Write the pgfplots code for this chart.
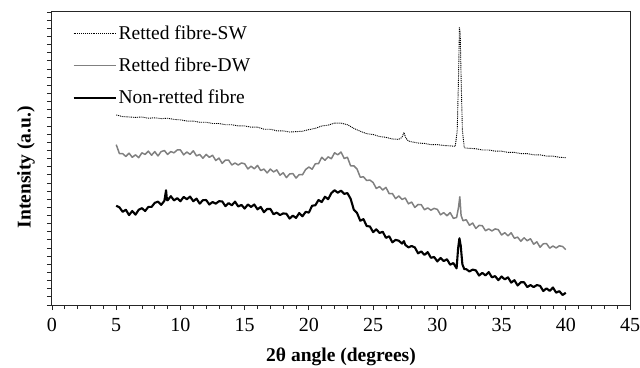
\documentclass[border=0pt]{standalone}
\usepackage{fontspec}
\setmainfont{Liberation Serif}
\usepackage{pgfplots}
\pgfplotsset{compat=1.18}
\newcommand{\fs}{\fontsize{19.5}{23}\selectfont}
\newcommand{\fst}{\fontsize{20}{24}\selectfont}
\begin{document}
\begin{tikzpicture}
\begin{axis}[
  at={(0,0)}, anchor=south west,
  scale only axis, width=578pt, height=293pt,
  xmin=0, xmax=45, ymin=0, ymax=36,
  xtick={0,5,...,45}, minor x tick num=4,
  ytick={0,1,...,36}, yticklabels={},
  tick align=outside, xtick pos=bottom, ytick pos=left,
  major tick length=5pt, minor tick length=4pt,
  axis line style={line width=1pt, color=black!85},
  every tick/.style={black!85, line width=0.8pt},
  font=\fs,
  tick label style={font=\fst},
  x tick label style={yshift=-5pt},
  /pgf/number format/assume math mode=true,
  xlabel={\textbf{2θ angle (degrees)}},
  ylabel={\textbf{Intensity (a.u.)}},
  xlabel style={font=\fs, at={(axis description cs:0.5,0)}, anchor=center, yshift=-52pt},
  ylabel style={font=\fs, at={(axis description cs:-0.045,0.47)}, anchor=center},
  legend cell align=left,
  legend style={draw=none, fill=none, at={(axis description cs:0.03,0.968)}, anchor=north west, row sep=13pt, font=\fs, nodes={font=\fs}},
  legend image code/.code={\draw[#1] (0pt,0pt) -- (42pt,0pt);},
]
% Retted fibre-SW
\addplot[black, line width=0.9pt, dash pattern=on 1pt off 0.9pt] coordinates {
(5,23.35)(5.5,23.15)(6,23.1)(6.5,23.05)(7,23.1)(7.5,22.95)(8,23.0)(8.5,22.9)(9,22.95)(9.5,22.8)
(10,22.75)(10.5,22.6)(11,22.6)(11.5,22.45)(12,22.45)(12.5,22.3)(13,22.3)(13.5,22.15)(14,22.15)(14.5,22.0)
(15,22.0)(15.5,21.85)(16,21.85)(16.5,21.6)(17,21.6)(17.5,21.4)(18,21.4)(18.5,21.25)(19,21.3)(19.5,21.35)
(20,21.55)(20.5,21.7)(21,22.0)(21.5,22.1)(22,22.35)(22.5,22.35)(23,22.15)(23.5,21.7)(24,21.35)(24.5,21.05)
(25,20.95)(25.5,20.7)(26,20.6)(26.5,20.4)(27,20.35)(27.25,20.6)(27.4,21.2)(27.55,20.5)(27.75,20.15)(28,20.05)
(28.5,19.9)(29,19.85)(29.5,19.7)(30,19.7)(30.5,19.6)(31,19.55)(31.4,19.5)(31.55,21.5)(31.65,28)(31.72,34.1)
(31.78,33.5)(31.85,28)(31.95,21.5)(32.1,19.3)(32.5,19.25)(33,19.2)(33.5,19.05)(34,19.05)(34.5,18.9)(35,18.9)
(35.5,18.75)(36,18.75)(36.5,18.6)(37,18.6)(37.5,18.45)(38,18.45)(38.5,18.3)(39,18.3)(39.5,18.15)(40,18.1)
};
\addlegendentry{Retted fibre-SW}
% Retted fibre-DW
\addplot[black!50, line width=1.5pt, line join=round] coordinates {
(5,19.7)(5.25,18.6)(5.5,18.6)(5.75,18.25)(6,18.65)(6.25,18.15)(6.5,18.45)(6.75,18.1)(7,18.7)(7.25,18.5)
(7.5,18.9)(7.75,18.4)(8,18.85)(8.25,18.32)(8.5,18.85)(8.75,18.98)(9,18.5)(9.25,18.85)(9.5,18.7)(9.75,19.05)
(10,19.05)(10.25,18.45)(10.5,18.8)(10.75,18.5)(11,18.95)(11.25,18.32)(11.5,18.5)(11.75,18.03)(12,18.5)(12.25,18.15)
(12.5,18.4)(12.75,17.75)(13,18.05)(13.25,17.4)(13.5,17.8)(13.75,17.8)(14,17.2)(14.25,17.45)(14.5,17.2)(14.75,17.45)
(15,17.35)(15.25,16.72)(15.5,17.05)(15.75,16.73)(16,17.15)(16.25,16.52)(16.5,16.7)(16.75,16.23)(17,16.7)(17.25,16.35)
(17.5,16.6)(17.75,15.95)(18,16.25)(18.25,15.65)(18.5,16.1)(18.75,16.15)(19,15.6)(19.25,16.03)(19.5,16.0)(19.75,16.65)
(20,16.95)(20.25,16.68)(20.5,17.35)(20.75,17.37)(21,18.15)(21.25,17.78)(21.5,18.2)(21.75,17.97)(22,18.7)(22.25,18.45)
(22.5,18.8)(22.75,18.0)(23,18.15)(23.25,17.1)(23.5,17.1)(23.75,16.7)(24,15.7)(24.25,15.75)(24.5,15.3)(24.75,15.35)
(25,15.05)(25.25,14.32)(25.5,14.55)(25.75,14.13)(26,14.45)(26.25,13.68)(26.5,13.7)(26.75,13.07)(27,13.4)(27.25,12.97)
(27.5,13.15)(27.75,12.43)(28,12.65)(28.25,11.98)(28.5,12.35)(28.75,12.32)(29,11.7)(29.25,11.93)(29.5,11.65)(29.75,11.87)
(30,11.75)(30.25,11.08)(30.5,11.35)(30.75,10.97)(31,11.35)(31.25,10.65)(31.5,10.75)(31.65,12.0)(31.75,13.3)(31.85,11.0)
(32,10.35)(32.25,10.48)(32.5,9.8)(32.75,10.07)(33,9.4)(33.25,9.78)(33.5,9.75)(33.75,9.12)(34,9.35)(34.25,9.1)
(34.5,9.35)(34.75,9.25)(35,8.6)(35.25,8.88)(35.5,8.5)(35.75,8.87)(36,8.2)(36.25,8.34)(36.5,7.83)(36.75,8.26)
(37,7.9)(37.25,8.14)(37.5,7.47)(37.75,7.76)(38,7.1)(38.25,7.52)(38.5,7.55)(38.75,6.98)(39,7.25)(39.25,7.01)
(39.5,7.27)(39.75,7.19)(40,6.8)
};
\addlegendentry{Retted fibre-DW}
% Non-retted fibre
\addplot[black, line width=2.1pt, line join=round] coordinates {
(5,12.2)(5.25,12.0)(5.5,11.45)(5.75,11.7)(6,11.05)(6.25,11.55)(6.5,11.1)(6.75,11.7)(7,11.9)(7.25,11.55)
(7.5,12.05)(7.75,12.05)(8,12.55)(8.25,12.7)(8.5,12.3)(8.75,12.8)(8.88,14.1)(8.95,12.9)(9,12.85)(9.25,13.37)
(9.5,12.85)(9.75,13.13)(10,12.75)(10.25,13.28)(10.5,13.0)(10.75,13.32)(11,12.75)(11.25,13.07)(11.5,12.45)(11.75,12.88)
(12,12.9)(12.25,12.35)(12.5,12.65)(12.75,12.45)(13,12.75)(13.25,12.73)(13.5,12.15)(13.75,12.52)(14,12.25)(14.25,12.7)
(14.5,12.1)(14.75,12.3)(15,11.85)(15.25,12.35)(15.5,12.05)(15.75,12.35)(16,11.75)(16.25,12.05)(16.5,11.4)(16.75,11.8)
(17,11.8)(17.25,11.15)(17.5,11.35)(17.75,11.05)(18,11.25)(18.25,11.21)(18.5,10.62)(18.75,10.98)(19,10.7)(19.25,11.3)
(19.5,10.9)(19.75,11.45)(20,11.35)(20.25,12.2)(20.5,12.25)(20.75,12.9)(21,12.65)(21.25,13.3)(21.5,13.0)(21.75,13.75)
(22,14.1)(22.25,13.8)(22.5,14.05)(22.75,13.65)(23,13.75)(23.25,13.05)(23.5,11.7)(23.75,11.3)(24,10.35)(24.25,10.55)
(24.5,9.7)(24.75,9.65)(25,8.95)(25.25,9.3)(25.5,8.85)(25.75,9.0)(26,8.25)(26.25,8.45)(26.5,7.7)(26.75,8.0)
(27,7.9)(27.25,7.55)(27.4,7.85)(27.5,7.4)(27.75,7.08)(28,7.25)(28.25,7.07)(28.5,6.35)(28.75,6.58)(29,6.15)
(29.25,6.5)(29.5,5.8)(29.75,5.9)(30,5.35)(30.25,5.78)(30.5,5.4)(30.75,5.62)(31,4.95)(31.25,5.15)(31.5,4.5)
(31.62,7.0)(31.72,8.2)(31.82,7.3)(31.95,5.0)(32.1,4.4)(32.25,4.4)(32.5,4.12)(32.75,4.35)(33,4.25)(33.25,3.62)
(33.5,3.95)(33.75,3.63)(34,4.05)(34.25,3.4)(34.5,3.55)(34.75,3.05)(35,3.5)(35.25,3.15)(35.5,3.4)(35.75,2.75)
(36,3.05)(36.25,2.4)(36.5,2.8)(36.75,2.8)(37,2.2)(37.25,2.45)(37.5,2.2)(37.75,2.45)(38,2.35)(38.25,1.72)
(38.5,2.05)(38.75,1.73)(39,2.15)(39.25,1.52)(39.5,1.7)(39.75,1.23)(40,1.5)
};
\addlegendentry{Non-retted fibre}
\end{axis}
\pgfresetboundingbox
\path[use as bounding box] (-52pt,-62pt) rectangle (588pt,305pt);
\end{tikzpicture}
\end{document}
